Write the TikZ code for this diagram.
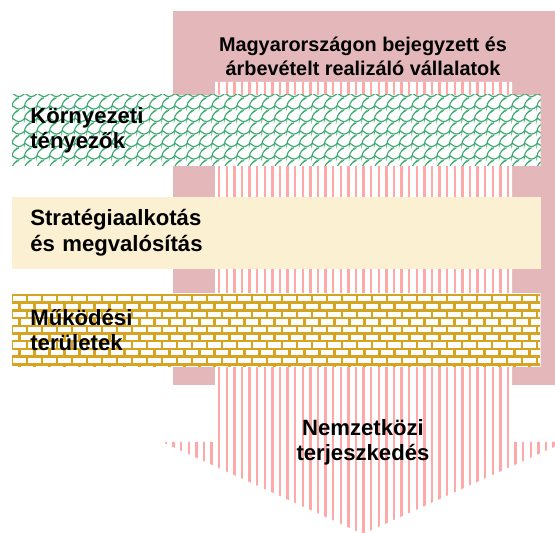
\documentclass[tikz,border=0pt]{standalone}
\usepackage{fontspec}
\setmainfont{Liberation Sans}
\usetikzlibrary{positioning}

\definecolor{rosebg}{RGB}{228,183,187}
\definecolor{stripepink}{RGB}{255,168,168}
\definecolor{shinglegreen}{RGB}{60,170,112}
\definecolor{brickgold}{RGB}{214,164,32}
\definecolor{parchment}{RGB}{252,240,210}

\pgfdeclarelayer{back}
\pgfdeclarelayer{texture}
\pgfsetlayers{back,texture,main}

\begin{document}
\begin{tikzpicture}[x=0.02cm, y=-0.02cm,
      band/.style = {rectangle, anchor=north west, minimum width=10.56cm,
                     text width=9.84cm, inner xsep=0.36cm, align=left,
                     font=\bfseries\fontsize{12.6}{14.4}\selectfont},
      heading/.style = {align=center, font=\bfseries\fontsize{11.3}{13.6}\selectfont},
      shingle/.style = {shinglegreen, line width=0.65pt, rounded corners=1.8pt},
      mortar/.style = {brickgold, line width=1.4pt},
      stripe/.style = {stripepink, line width=1.3pt}
    ]
    \useasboundingbox (0,0) rectangle (555,533);

    % Nodes
    \node[heading] (firms) at (363,56) {Magyarországon bejegyzett és\\árbevételt realizáló vállalatok};
    \node[band, minimum height=1.4cm] (env) at (12,95) {Környezeti\\tényezők};
    \node[band, minimum height=1.42cm] (strategy) at (12,197) {Stratégiaalkotás\\és megvalósítás};
    \node[band, minimum height=1.46cm] (ops) at (12,293) {Működési\\területek};
    \node[heading, font=\bfseries\fontsize{12.6}{14.4}\selectfont] (expansion) at (363,442) {Nemzetközi\\terjeszkedés};

    % Background and arrow
    \begin{pgfonlayer}{back}
      \fill[rosebg] (173,11) rectangle (555,385);
      \coordinate (tip) at (363,534);
      \begin{scope}
        \clip (215,82) -- (512,82) -- (512,442) -- (565,442) -- (tip)
              -- (162,442) -- (215,442) -- cycle;
        \fill[white] (150,80) rectangle (570,540);
        \foreach \k in {0,...,53}
          \draw[stripe] ({166+\k*7.6},80) -- ++(0,460);
      \end{scope}
    \end{pgfonlayer}

    % Band textures
    \begin{pgfonlayer}{texture}
      \begin{scope}
        \clip (env.north west) rectangle (env.south east);
        \fill[white] (env.north west) rectangle (env.south east);
        \foreach \j in {0,...,5}
          \foreach \i in {0,...,42} {
            \pgfmathsetmacro\sx{12+\i*12.5}
            \pgfmathsetmacro\sy{93+\j*12.5}
            \draw[shingle] (\sx,\sy) -- (\sx+7,\sy+4.7) -- (\sx+12.5,\sy+0.8);
            \draw[shingle] (\sx+7,\sy+4.7) -- (\sx+3.9,\sy+6.2) -- (\sx,\sy+10.1) -- (\sx,\sy+12.5);
          }
      \end{scope}
      \fill[parchment] (strategy.north west) rectangle (strategy.south east);
      \begin{scope}
        \clip (ops.north west) rectangle (ops.south east);
        \fill[white] (ops.north west) rectangle (ops.south east);
        \foreach \r in {0,...,9} {
          \draw[mortar] (12,{295+\r*7.7}) -- (540,{295+\r*7.7});
          \foreach \c in {0,...,36}
            \draw[mortar] ({12+\c*15+mod(\r,2)*7.5},{295+\r*7.7}) -- ++(0,7.7);
        }
      \end{scope}
    \end{pgfonlayer}
  \end{tikzpicture}
\end{document}
